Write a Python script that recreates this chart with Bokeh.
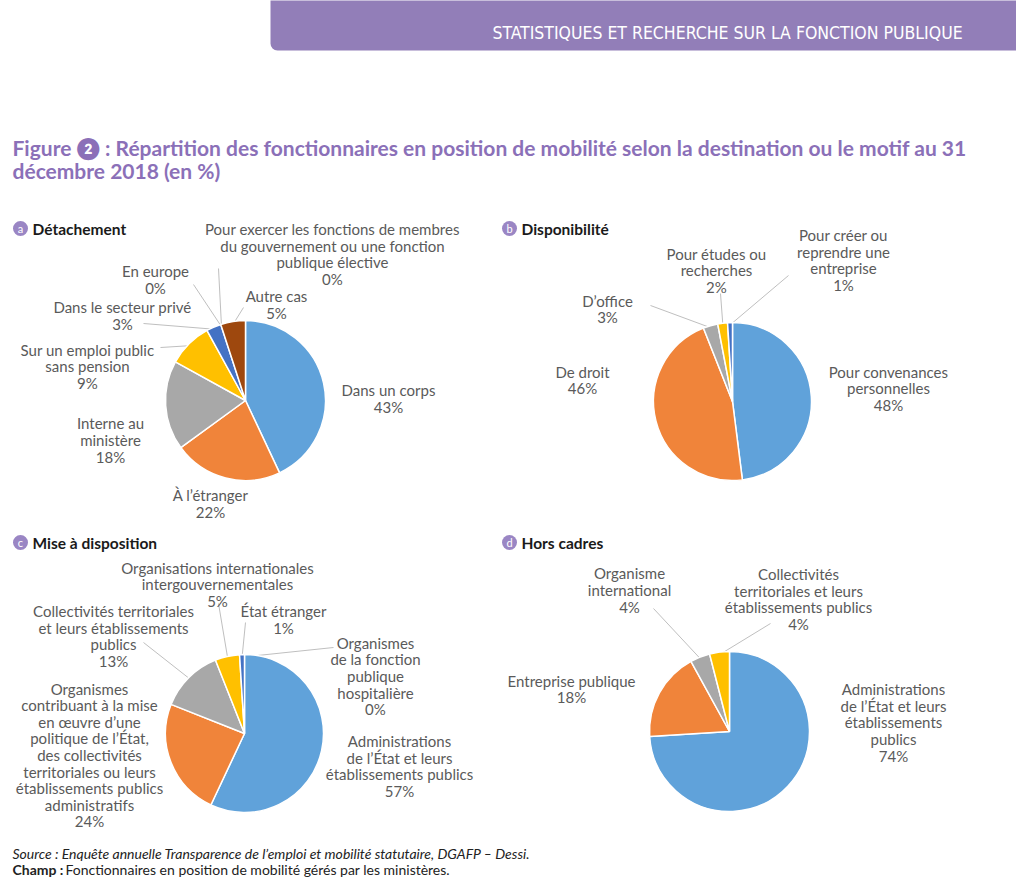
import math
from bokeh.plotting import figure
from bokeh.models import Range1d
from bokeh.core.properties import value
from bokeh.embed import file_html
from bokeh.resources import INLINE

# ---------------- data ----------------
det_labels = ["Dans un corps", "À l'étranger", "Interne au ministère",
              "Sur un emploi public sans pension", "Dans le secteur privé", "En europe",
              "Pour exercer les fonctions de membres du gouvernement ou une fonction publique élective",
              "Autre cas"]
det_values = [43, 22, 18, 9, 3, 0, 0, 5]
det_text = ["Dans un corps\n43%", "À l’étranger\n22%", "Interne au\nministère\n18%",
            "Sur un emploi public\nsans pension\n9%", "Dans le secteur privé\n3%", "En europe\n0%",
            "Pour exercer les fonctions de membres\ndu gouvernement ou une fonction\npublique élective\n0%",
            "Autre cas\n5%"]

dis_labels = ["Pour convenances personnelles", "De droit", "D'office",
              "Pour études ou recherches", "Pour créer ou reprendre une entreprise"]
dis_values = [48, 46, 3, 2, 1]
dis_text = ["Pour convenances\npersonnelles\n48%", "De droit\n46%", "D’office\n3%",
            "Pour études ou\nrecherches\n2%", "Pour créer ou\nreprendre une\nentreprise\n1%"]

mad_labels = ["Administrations de l'État et leurs établissements publics",
              "Organismes contribuant à la mise en œuvre d'une politique de l'État, des collectivités territoriales ou leurs établissements publics administratifs",
              "Collectivités territoriales et leurs établissements publics",
              "Organisations internationales intergouvernementales",
              "État étranger", "Organismes de la fonction publique hospitalière"]
mad_values = [57, 24, 13, 5, 1, 0]
mad_text = ["Administrations\nde l’État et leurs\nétablissements publics\n57%",
            "Organismes\ncontribuant à la mise\nen œuvre d’une\npolitique de l’État,\ndes collectivités\nterritoriales ou leurs\nétablissements publics\nadministratifs\n24%",
            "Collectivités territoriales\net leurs établissements\npublics\n13%",
            "Organisations internationales\nintergouvernementales\n5%",
            "État étranger\n1%",
            "Organismes\nde la fonction\npublique\nhospitalière\n0%"]

hc_labels = ["Administrations de l'État et leurs établissements publics", "Entreprise publique",
             "Organisme international", "Collectivités territoriales et leurs établissements publics"]
hc_values = [74, 18, 4, 4]
hc_text = ["Administrations\nde l’État et leurs\nétablissements\npublics\n74%",
           "Entreprise publique\n18%", "Organisme\ninternational\n4%",
           "Collectivités\nterritoriales et leurs\nétablissements publics\n4%"]

palette = ["#60A2DA", "#F0843A", "#A8A8A8", "#FFC000", "#4472C4", "#70AD47", "#264478", "#9E480E"]

# ---------------- layout ----------------
W, H = 1016, 888
def Y(v):
    return 891 - v

FONT = "Lato"
LABEL_COLOR = "#5A5A5A"

p = figure(width=W, height=H, x_range=Range1d(0, W), y_range=Range1d(891 - H, 891),
           output_backend="svg", toolbar_location=None, min_border=0,
           x_axis_location=None, y_axis_location=None)
p.grid.visible = False
p.outline_line_color = None
p.background_fill_color = "white"

# header band
p.quad(left=[270], right=[1040], top=[Y(-20)], bottom=[Y(50)], fill_color="#927EB8",
       line_color=None, border_radius=7)
p.text(x=[727], y=[Y(32)], text=["STATISTIQUES ET RECHERCHE SUR LA FONCTION PUBLIQUE"],
       text_font=value("DejaVu Sans Condensed"), text_font_size="17.5px", text_color="white",
       text_align="center", text_baseline="middle")

# title
p.text(x=[12], y=[Y(147)],
       text=["Figure ❷ : Répartition des fonctionnaires en position de mobilité selon la destination ou le motif au 31"],
       text_font=value(FONT), text_font_style="bold", text_font_size="21px", text_color="#8B70B8",
       text_align="left", text_baseline="middle")
p.text(x=[12], y=[Y(170)], text=["décembre 2018 (en %)"],
       text_font=value(FONT), text_font_style="bold", text_font_size="21px", text_color="#8B70B8",
       text_align="left", text_baseline="middle")

# panel titles
panels_titles = [("a", "Détachement", 20, 228), ("b", "Disponibilité", 509, 228),
                 ("c", "Mise à disposition", 20, 542), ("d", "Hors cadres", 509, 542)]
for letter, title, cx, cy in panels_titles:
    p.scatter(x=[cx], y=[Y(cy)], size=15, marker="circle", fill_color="#9A86C4", line_color=None)
    p.text(x=[cx], y=[Y(cy)], text=[letter], text_font=value(FONT), text_font_size="11px",
           text_color="white", text_align="center", text_baseline="middle")
    p.text(x=[cx + 12], y=[Y(cy)], text=[title], text_font=value(FONT), text_font_style="bold",
           text_font_size="15.5px", text_color="#1A1A1A", text_align="left", text_baseline="middle")


def draw_pie(values, texts, cx, cy, r, label_pos, leaders):
    total = float(sum(values))
    cum = 0.0
    starts, ends, mids = [], [], []
    for v in values:
        a0 = math.pi / 2 - 2 * math.pi * cum / total
        cum += v
        a1 = math.pi / 2 - 2 * math.pi * cum / total
        starts.append(a0)
        ends.append(a1)
        mids.append((a0 + a1) / 2)
    cols = palette[:len(values)]
    # leader lines
    for i, (lx, ly) in leaders.items():
        ex = cx + r * 0.97 * math.cos(mids[i])
        ey = Y(cy) + r * 0.97 * math.sin(mids[i])
        p.segment(x0=[lx], y0=[Y(ly)], x1=[ex], y1=[ey], line_color="#BFBFBF", line_width=1)
    nz = [i for i, v in enumerate(values) if v > 0]
    p.wedge(x=[cx] * len(nz), y=[Y(cy)] * len(nz), radius=r,
            start_angle=[starts[i] for i in nz], end_angle=[ends[i] for i in nz],
            direction="clock", fill_color=[cols[i] for i in nz], line_color="white", line_width=1.5)
    for (tx, ty), t in zip(label_pos, texts):
        p.text(x=[tx], y=[Y(ty)], text=[t], text_font=value(FONT), text_font_size="15px",
               text_color=LABEL_COLOR, text_align="center", text_baseline="middle",
               text_line_height=0.92)


draw_pie(det_values, det_text, 245, 400, 80,
         [(388, 398), (210, 503), (110, 439.5), (87, 366), (122, 315), (155, 279), (332, 253.5), (276, 304)],
         {3: (160, 347), 4: (143, 323), 5: (193, 284), 6: (218, 268), 7: (243, 307)})

draw_pie(dis_values, dis_text, 732, 401, 79,
         [(888, 388), (582, 379.5), (607, 308.5), (716, 270), (843, 259.5)],
         {2: (650, 305), 3: (720, 293), 4: (788, 275)})

draw_pie(mad_values, mad_text, 244, 733, 79,
         [(399, 765.5), (89, 754.5), (113, 635.5), (217, 584), (283, 619), (375, 675.5)],
         {2: (143, 642), 3: (218, 603), 4: (245, 622), 5: (333, 647)})

draw_pie(hc_values, hc_text, 729, 731, 80,
         [(893, 722), (571, 688.5), (629, 589.5), (798, 598.5)],
         {2: (653, 608), 3: (770, 623)})

# source notes
p.text(x=[12], y=[Y(853)],
       text=["Source : Enquête annuelle Transparence de l’emploi et mobilité statutaire, DGAFP – Dessi."],
       text_font=value(FONT), text_font_style="italic", text_font_size="14px", text_color="#222222",
       text_align="left", text_baseline="middle")
p.text(x=[12], y=[Y(869)], text=["Champ :"], text_font=value(FONT), text_font_style="bold",
       text_font_size="14px", text_color="#222222", text_align="left", text_baseline="middle")
p.text(x=[65], y=[Y(869)], text=["Fonctionnaires en position de mobilité gérés par les ministères."],
       text_font=value(FONT), text_font_size="14px", text_color="#222222",
       text_align="left", text_baseline="middle")

open("out.html", "w").write(file_html(p, INLINE))
